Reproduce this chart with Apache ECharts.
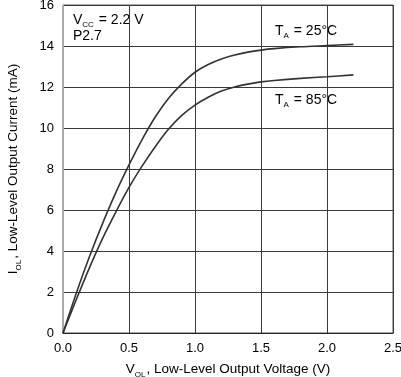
<!DOCTYPE html>
<html>
<head>
<meta charset="utf-8">
<script src="https://cdn.jsdelivr.net/npm/echarts@6/dist/echarts.min.js"></script>
<style>
  html, body { margin: 0; padding: 0; background: #fff; }
  #chart { width: 401px; height: 377px; }
</style>
</head>
<body>
<div id="chart"></div>
<script type="text/javascript">
// V_OL (V) vs I_OL (mA)
var volt25 = [0, 0.1, 0.2, 0.3, 0.4, 0.5, 0.6, 0.7, 0.8, 0.9, 1.0, 1.1, 1.2, 1.3, 1.4, 1.5, 1.6, 1.8, 2.0, 2.2];
var curr25 = [0, 1.93, 3.72, 5.35, 6.85, 8.2, 9.45, 10.55, 11.45, 12.15, 12.72, 13.1, 13.37, 13.56, 13.7, 13.8, 13.87, 13.96, 14.02, 14.08];
var volt85 = [0, 0.1, 0.2, 0.3, 0.4, 0.5, 0.6, 0.7, 0.8, 0.9, 1.0, 1.1, 1.2, 1.3, 1.4, 1.5, 1.6, 1.8, 2.0, 2.2];
var curr85 = [0, 1.62, 3.18, 4.62, 5.9, 7.1, 8.15, 9.1, 9.95, 10.62, 11.12, 11.5, 11.8, 12.0, 12.14, 12.25, 12.32, 12.42, 12.5, 12.59];

var xTicks = [0, 0.5, 1.0, 1.5, 2.0, 2.5];
var yTicks = [0, 2, 4, 6, 8, 10, 12, 14, 16];

function pairs(xs, ys) {
    var out = [];
    for (var i = 0; i < xs.length; i++) {
        out.push([xs[i], ys[i]]);
    }
    return out;
}

var FONT = 'Liberation Sans, Arial, sans-serif';
// main text + subscript styles for rich labels
var norm = { fontSize: 13.5, fontFamily: FONT, color: '#000' };
var sub = { fontSize: 8, fontFamily: FONT, color: '#000', verticalAlign: 'bottom', padding: [0, 1, -3, 0] };
var normBig = { fontSize: 14, fontFamily: FONT, color: '#000' };
var subBig = { fontSize: 8, fontFamily: FONT, color: '#000', verticalAlign: 'bottom', padding: [0, 1, -2, 0] };

var chart = echarts.init(document.getElementById('chart'));
var option = {
    animation: false,
    backgroundColor: '#fff',
    grid: {
        left: 63, right: 8, top: 5, bottom: 44,
        outerBoundsMode: 'none', containLabel: false,
        show: true, borderColor: '#555', borderWidth: 1
    },
    xAxis: {
        type: 'value',
        min: xTicks[0],
        max: xTicks[xTicks.length - 1],
        interval: 0.5,
        axisLine: { lineStyle: { color: '#222', width: 1 } },
        axisTick: { show: false },
        splitLine: { lineStyle: { color: '#3a3a3a', width: 1 } },
        axisLabel: {
            color: '#000', fontSize: 13, fontFamily: FONT, margin: 9,
            formatter: function (v) { return v.toFixed(1); }
        },
        name: '{n|V}{s|OL}{n|, Low-Level Output Voltage (V)}',
        nameLocation: 'middle',
        nameGap: 29,
        nameTextStyle: { rich: { n: norm, s: sub } }
    },
    yAxis: {
        type: 'value',
        min: yTicks[0],
        max: yTicks[yTicks.length - 1],
        interval: 2,
        axisLine: { show: true, lineStyle: { color: '#aaa', width: 1 } },
        axisTick: { show: false },
        splitLine: { lineStyle: { color: '#3a3a3a', width: 1 } },
        axisLabel: { color: '#000', fontSize: 13, fontFamily: FONT, margin: 9 },
        name: '{n|I}{s|OL}{n|, Low-Level Output Current (mA)}',
        nameLocation: 'middle',
        nameGap: 43,
        nameTextStyle: { rich: { n: norm, s: sub } }
    },
    graphic: [
        {
            type: 'text', left: 73, top: 13,
            style: { text: '{n|V}{s|CC}{n| = 2.2 V}', rich: { n: normBig, s: subBig } }
        },
        {
            type: 'text', left: 73, top: 29,
            style: { text: 'P2.7', font: '14px ' + FONT, fill: '#000' }
        },
        {
            type: 'text', left: 275, top: 24,
            style: { text: '{n|T}{s|A}{n| = 25°C}', rich: { n: normBig, s: subBig } }
        },
        {
            type: 'text', left: 275, top: 93,
            style: { text: '{n|T}{s|A}{n| = 85°C}', rich: { n: normBig, s: subBig } }
        }
    ],
    series: [
        {
            name: 'TA = 25°C',
            type: 'line',
            data: pairs(volt25, curr25),
            smooth: 0.3,
            showSymbol: false,
            lineStyle: { color: '#333', width: 1.6 }
        },
        {
            name: 'TA = 85°C',
            type: 'line',
            data: pairs(volt85, curr85),
            smooth: 0.3,
            showSymbol: false,
            lineStyle: { color: '#333', width: 1.6 }
        }
    ]
};
chart.setOption(option);
</script>
</body>
</html>
